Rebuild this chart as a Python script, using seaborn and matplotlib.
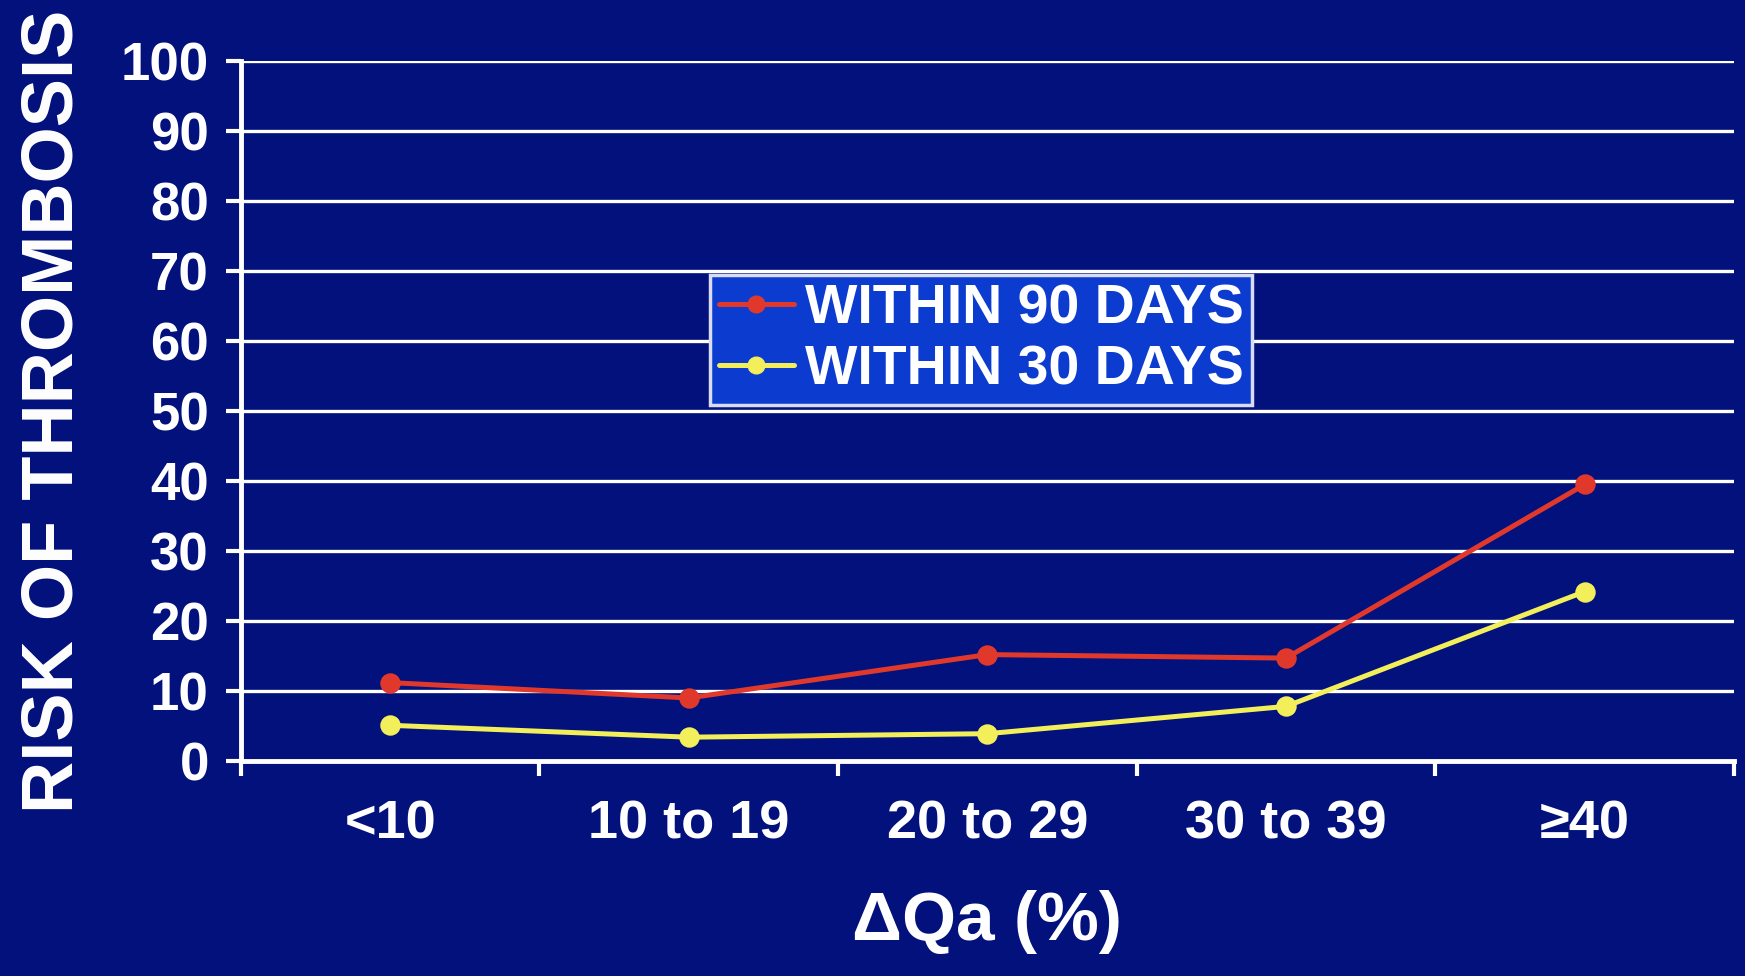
import matplotlib
matplotlib.use("Agg")
import matplotlib.pyplot as plt
from matplotlib.lines import Line2D
import seaborn as sns
import pandas as pd

categories = ["<10", "10 to 19", "20 to 29", "30 to 39", "≥40"]
within_90 = [11.2, 9.0, 15.2, 14.7, 39.5]
within_30 = [5.1, 3.4, 3.9, 7.8, 24.2]
series_names = ["WITHIN 90 DAYS", "WITHIN 30 DAYS"]
y_ticks = list(range(0, 101, 10))

BG = "#02117c"
RED = "#e0392b"
YEL = "#f2ef5a"
LEG = "#0b3ccf"

df = pd.DataFrame({
    "cat": categories * 2,
    "risk": within_90 + within_30,
    "series": [series_names[0]] * 5 + [series_names[1]] * 5,
})

sns.set_theme(style="white")
plt.rcParams["font.family"] = ["Liberation Sans", "DejaVu Sans"]
plt.rcParams["font.weight"] = "bold"

fig = plt.figure(figsize=(17.45, 9.76), dpi=100, facecolor=BG)
ax = fig.add_axes([0.138, 0.2203, 0.8557, 0.7172])
ax.set_facecolor(BG)

for y in y_ticks:
    ax.axhline(y, color="white", lw=2.4, zorder=1)

sns.pointplot(data=df, x="cat", y="risk", hue="series", order=categories,
              hue_order=series_names, palette=[RED, YEL], markers="o",
              linestyles="-", dodge=False, ax=ax, legend=False,
              markersize=12, linewidth=3.6, errorbar=None)
for ln in ax.lines:
    ln.set_zorder(3)

ax.set_xlim(-0.5, len(categories) - 0.5)
ax.set_ylim(0, 100)
ax.set_yticks(y_ticks)
ax.set_yticklabels([str(v) for v in y_ticks], fontsize=38, fontweight="bold", color="white")
ax.tick_params(axis="y", length=11, width=3, color="white", pad=12, left=True)

ax.set_xticks([i - 0.5 for i in range(len(categories) + 1)])
ax.set_xticklabels([""] * (len(categories) + 1))
ax.tick_params(axis="x", which="major", length=11, width=3, color="white", bottom=True)
ax.set_xticks(range(len(categories)), minor=True)
ax.set_xticklabels(categories, minor=True, fontsize=39, fontweight="bold", color="white")
ax.tick_params(axis="x", which="minor", length=0, pad=28)

for s in ["top", "right"]:
    ax.spines[s].set_visible(False)
for s in ["left", "bottom"]:
    ax.spines[s].set_color("white")
    ax.spines[s].set_linewidth(3.5)
    ax.spines[s].set_zorder(4)

ax.set_ylabel("RISK OF THROMBOSIS", fontsize=52, fontweight="bold", color="white")
ax.yaxis.set_label_coords(-0.103, 0.5)
ax.set_xlabel("ΔQa (%)", fontsize=50, fontweight="bold", color="white")
ax.xaxis.set_label_coords(0.5, -0.185)

handles = [Line2D([], [], color=RED, lw=3.6, marker="o", markersize=12),
           Line2D([], [], color=YEL, lw=3.6, marker="o", markersize=12)]
leg = ax.legend(handles, series_names, loc="upper left",
                bbox_to_anchor=(0.407, 0.718), bbox_transform=fig.transFigure,
                borderaxespad=0, frameon=True, fancybox=False,
                facecolor=LEG, edgecolor="#d8dcf0", framealpha=1,
                prop={"size": 40, "weight": "bold"}, handlelength=1.35,
                handletextpad=0.2, borderpad=0.15, labelspacing=0.16)
leg.get_frame().set_linewidth(2.5)
for t in leg.get_texts():
    t.set_color("white")
leg.set_zorder(5)

fig.savefig("out.png", dpi=100, facecolor=BG)
